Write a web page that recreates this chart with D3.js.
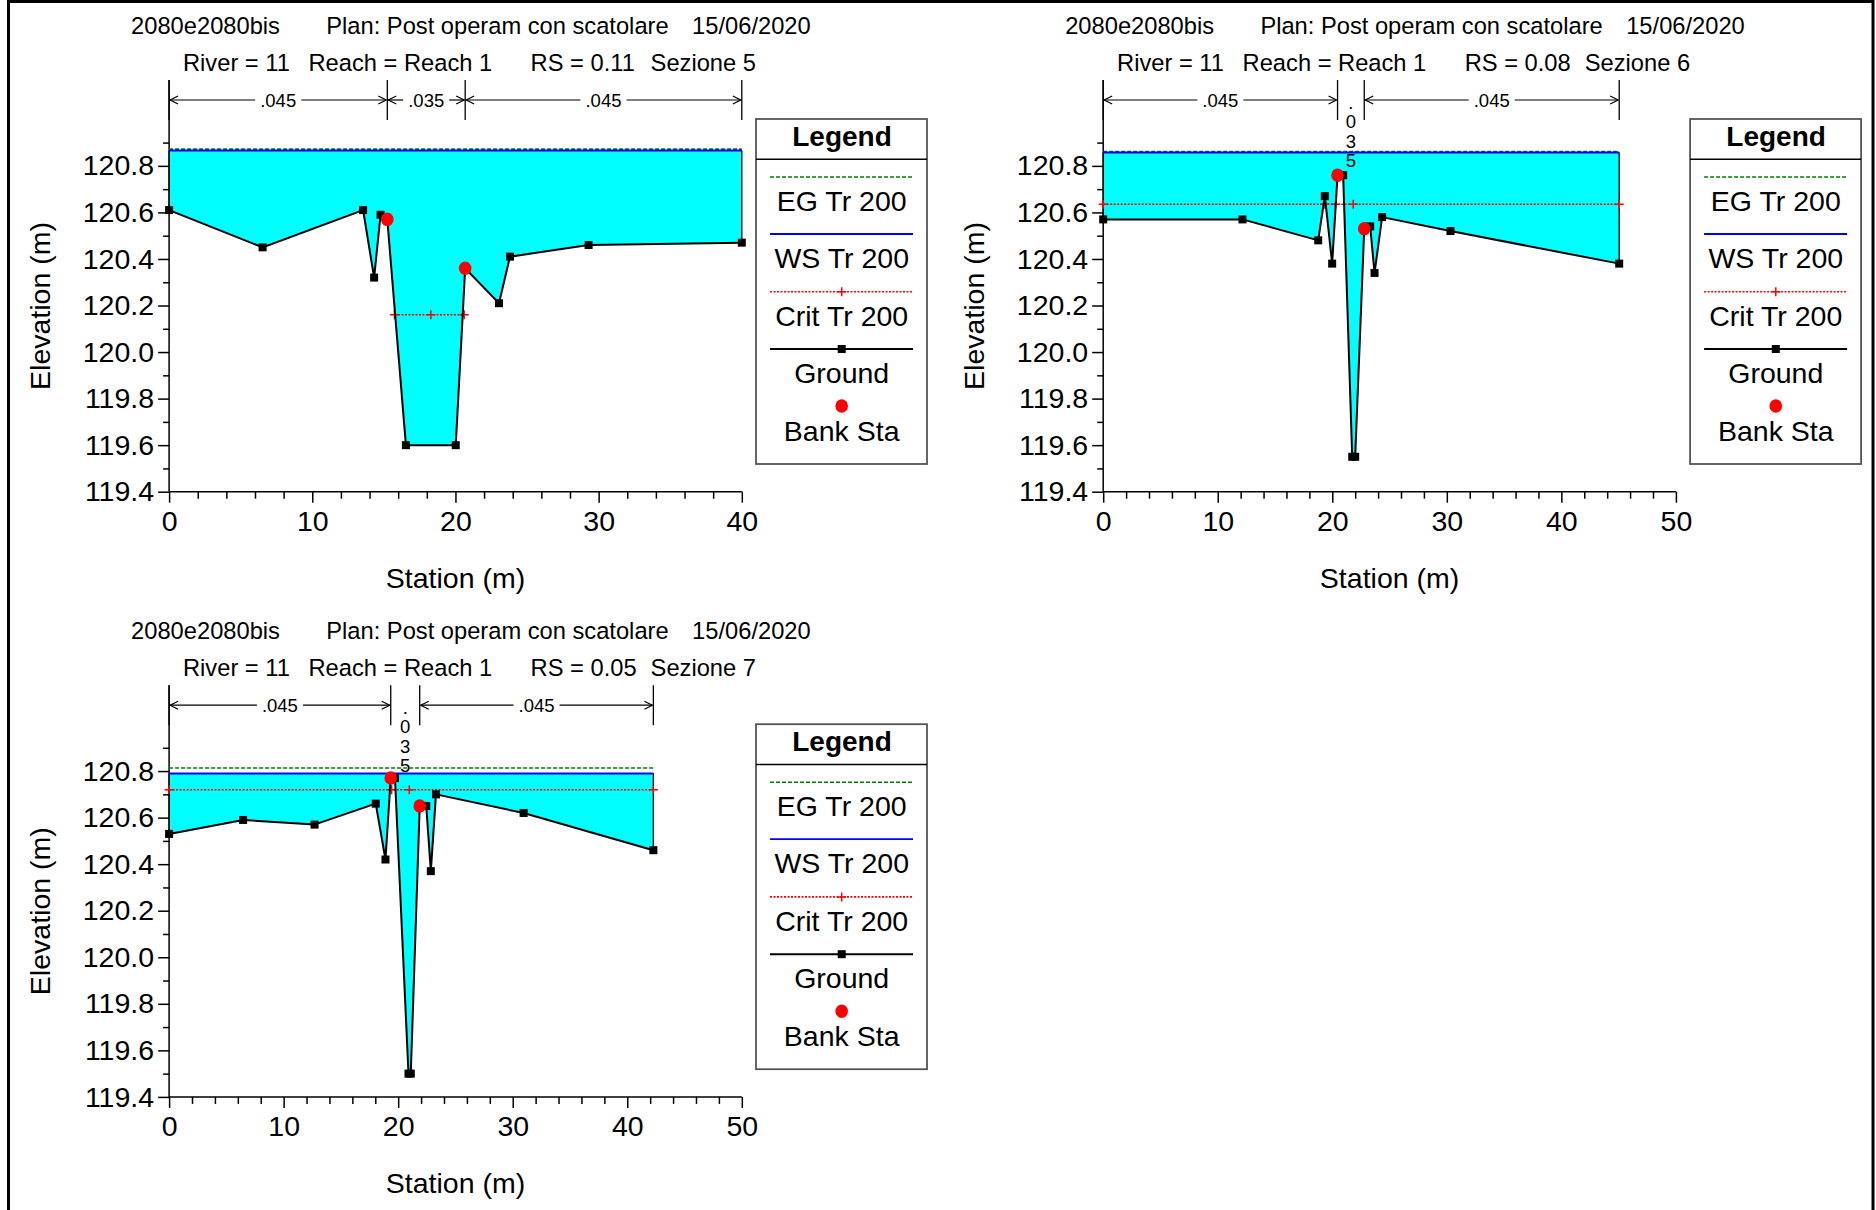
<!DOCTYPE html>
<html><head><meta charset="utf-8">
<script src="https://cdn.jsdelivr.net/npm/d3@7"></script>
<style>
body{margin:0;background:#fff;}
svg{display:block;font-family:"Liberation Sans",Arial,Helvetica,sans-serif;}
</style>
</head><body>
<svg id="c" width="1876" height="1210"></svg>
<script>
// ---------------- data ----------------
const projectName = "2080e2080bis";
const planName = "Plan: Post operam con scatolare";
const planDate = "15/06/2020";
const riverLabel = "River = 11";
const reachLabel = "Reach = Reach 1";
const rsLabels = ["RS = 0.11", "RS = 0.08", "RS = 0.05"];
const sectionLabels = ["Sezione 5", "Sezione 6", "Sezione 7"];
const stationMax = [40, 50, 50];
const stationTicks = [[0, 10, 20, 30, 40], [0, 10, 20, 30, 40, 50], [0, 10, 20, 30, 40, 50]];
const elevTicks = [119.4, 119.6, 119.8, 120.0, 120.2, 120.4, 120.6, 120.8];
const elevMinorTicks = [119.5, 119.7, 119.9, 120.1, 120.3, 120.5, 120.7, 120.9];
const elevDomain = [119.4, 120.9];

const groundStation = [
  [0, 6.53, 13.55, 14.32, 14.77, 15.24, 16.54, 20.02, 20.68, 23.04, 23.81, 29.3, 40],
  [0, 12.16, 18.77, 19.35, 19.99, 20.46, 20.95, 21.74, 22.0, 22.79, 23.31, 23.69, 24.35, 30.32, 45.05],
  [0, 6.46, 12.7, 18.04, 18.89, 19.35, 19.72, 20.9, 21.1, 21.88, 22.45, 22.85, 23.3, 30.95, 42.28]
];
const groundElev = [
  [120.61, 120.45, 120.61, 120.32, 120.59, 120.57, 119.60, 119.60, 120.36, 120.21, 120.41, 120.46, 120.47],
  [120.57, 120.57, 120.48, 120.67, 120.38, 120.76, 120.76, 119.55, 119.55, 120.53, 120.54, 120.34, 120.58, 120.52, 120.38],
  [120.53, 120.59, 120.57, 120.66, 120.42, 120.77, 120.77, 119.50, 119.50, 120.65, 120.65, 120.37, 120.70, 120.62, 120.46]
];
const bankStation = [[15.24, 20.68], [20.46, 22.79], [19.35, 21.88]];
const bankElev = [[120.57, 120.36], [120.76, 120.53], [120.77, 120.65]];
const egElev = [120.872, 120.862, 120.813];
const wsElev = [120.866, 120.857, 120.79];
const critElev = [120.16, 120.635, 120.72];
const critStation = [[15.74, 18.28, 20.61], [0, 19.35, 20.29, 21.83, 45.05], [0, 19.43, 20.97, 42.28]];
const nBounds = [[0, 15.24, 20.68, 40], [0, 20.46, 22.79, 45.05], [0, 19.35, 21.88, 42.28]];
const nValues = [[".045", ".035", ".045"], [".045", ".035", ".045"], [".045", ".035", ".045"]];
const legendLabels = ["EG Tr 200", "WS Tr 200", "Crit Tr 200", "Ground", "Bank Sta"];

// ---------------- drawing ----------------
const svg = d3.select("#c");
svg.append("rect").attr("width", 1876).attr("height", 1210).attr("fill", "#fff");
// outer frame (bottom edge is off-page)
svg.append("rect").attr("x", 8.5).attr("y", 1.5).attr("width", 1864.5).attr("height", 1230)
  .attr("fill", "none").attr("stroke", "#000").attr("stroke-width", 3);

const panelOrigins = [{x: 169.1, y: 0}, {x: 1103.2, y: 0}, {x: 169.1, y: 605.2}];
const plotW = 572.7;
const FONT = 28.5;

function drawPanel(i) {
  const o = panelOrigins[i];
  const g = svg.append("g").attr("transform", `translate(${o.x},${o.y})`);
  const x = d3.scaleLinear().domain([0, stationMax[i]]).range([0, plotW]);
  const y = d3.scaleLinear().domain(elevDomain).range([491.7, 142.6]);
  const bottom = y(elevDomain[0]);

  // titles
  const t1 = g.append("g").attr("font-size", 23.7).attr("fill", "#000");
  t1.append("text").attr("x", -38).attr("y", 34).text(projectName);
  t1.append("text").attr("x", 157.2).attr("y", 34).text(planName);
  t1.append("text").attr("x", 523).attr("y", 34).text(planDate);
  t1.append("text").attr("x", 13.9).attr("y", 70.6).text(riverLabel);
  t1.append("text").attr("x", 139.4).attr("y", 70.6).text(reachLabel);
  t1.append("text").attr("x", 361.5).attr("y", 70.6).text(rsLabels[i]);
  t1.append("text").attr("x", 481.5).attr("y", 70.6).text(sectionLabels[i]);

  const gs = groundStation[i], ge = groundElev[i];
  const pts = gs.map((s, k) => [s, ge[k]]);

  // water fill
  const xEnd = gs[gs.length - 1];
  const poly = [[0, wsElev[i]], [xEnd, wsElev[i]]].concat(pts.slice().reverse());
  g.append("path")
    .attr("d", d3.line().x(d => x(d[0])).y(d => y(d[1]))(poly) + "Z")
    .attr("fill", "#00FFFF").attr("stroke", "none");

  // axes
  const yMinor = d3.axisLeft(y).tickValues(elevMinorTicks).tickSize(6).tickFormat("");
  const yMajor = d3.axisLeft(y).tickValues(elevTicks).tickSize(11).tickPadding(4).tickFormat(d3.format(".1f"));
  const minorX = d3.range(0, stationMax[i] + 0.001, 2).filter(v => v % 10 !== 0);
  const xMinor = d3.axisBottom(x).tickValues(minorX).tickSize(7).tickFormat("");
  const xMajor = d3.axisBottom(x).tickValues(stationTicks[i]).tickSize(11).tickPadding(8).tickFormat(d3.format("d"));

  const ax = g.append("g");
  [yMinor, yMajor].forEach(a => ax.append("g").call(a));
  [xMinor, xMajor].forEach(a => ax.append("g").attr("transform", `translate(0,${bottom})`).call(a));
  ax.selectAll(".domain").remove();
  ax.selectAll(".tick line").attr("stroke", "#000").attr("stroke-width", 1.5);
  ax.selectAll(".tick text").attr("font-size", FONT).attr("fill", "#000")
    .attr("font-family", '"Liberation Sans",Arial,sans-serif');
  ax.append("line").attr("x1", 0).attr("x2", 0).attr("y1", 80).attr("y2", bottom)
    .attr("stroke", "#000").attr("stroke-width", 1.5);
  ax.append("line").attr("x1", 0).attr("x2", plotW).attr("y1", bottom).attr("y2", bottom)
    .attr("stroke", "#000").attr("stroke-width", 1.5);

  // axis titles
  g.append("text").attr("x", x(stationMax[i] / 2)).attr("y", 588).attr("text-anchor", "middle")
    .attr("font-size", FONT).text("Station (m)");
  g.append("text").attr("transform", `translate(${50 - o.x + (i === 1 ? 934.1 : 0)},306) rotate(-90)`)
    .attr("text-anchor", "middle").attr("font-size", FONT).text("Elevation (m)");

  // Manning n brackets
  const nb = nBounds[i];
  const br = g.append("g");
  nb.forEach(b => br.append("line").attr("x1", x(b)).attr("x2", x(b)).attr("y1", 80).attr("y2", 120)
    .attr("stroke", "#000").attr("stroke-width", 1.3));
  for (let k = 0; k < nb.length - 1; k++) {
    const xa = x(nb[k]), xb = x(nb[k + 1]), xm = (xa + xb) / 2;
    const lbl = nValues[i][k];
    if (xb - xa < 56) {
      lbl.split("").forEach((ch, j) => {
        br.append("text").attr("x", xm).attr("y", 108.5 + j * 19.5).attr("text-anchor", "middle")
          .attr("font-size", 18.5).text(ch);
      });
      continue;
    }
    const txt = br.append("text").attr("x", xm).attr("y", 106.5).attr("text-anchor", "middle")
      .attr("font-size", 18.5).text(lbl);
    const half = txt.node().getComputedTextLength() / 2 + 5;
    const ay = 100;
    const lx1 = xa + 1, lx2 = xb - 1;
    br.append("line").attr("x1", lx1).attr("x2", xm - half).attr("y1", ay).attr("y2", ay)
      .attr("stroke", "#000").attr("stroke-width", 1.2);
    br.append("line").attr("x1", xm + half).attr("x2", lx2).attr("y1", ay).attr("y2", ay)
      .attr("stroke", "#000").attr("stroke-width", 1.2);
    br.append("path").attr("d", `M${lx1 + 8},${ay - 4}L${lx1},${ay}L${lx1 + 8},${ay + 4}`)
      .attr("fill", "none").attr("stroke", "#000").attr("stroke-width", 1.2);
    br.append("path").attr("d", `M${lx2 - 8},${ay - 4}L${lx2},${ay}L${lx2 - 8},${ay + 4}`)
      .attr("fill", "none").attr("stroke", "#000").attr("stroke-width", 1.2);
  }

  // end walls of water area
  [0, xEnd].forEach((s, k) => {
    g.append("line").attr("x1", x(s)).attr("x2", x(s)).attr("y1", y(wsElev[i]))
      .attr("y2", y(k === 0 ? ge[0] : ge[ge.length - 1]))
      .attr("stroke", "#000").attr("stroke-width", 1.3);
  });

  // EG
  g.append("line").attr("x1", x(0)).attr("x2", x(xEnd)).attr("y1", y(egElev[i])).attr("y2", y(egElev[i]))
    .attr("stroke", "#008000").attr("stroke-width", 1.6).attr("stroke-dasharray", "4,2");
  // WS
  g.append("line").attr("x1", x(0)).attr("x2", x(xEnd)).attr("y1", y(wsElev[i])).attr("y2", y(wsElev[i]))
    .attr("stroke", "#0000FF").attr("stroke-width", 2);
  // Crit
  const cs = critStation[i];
  g.append("line").attr("x1", x(cs[0])).attr("x2", x(cs[cs.length - 1]))
    .attr("y1", y(critElev[i])).attr("y2", y(critElev[i]))
    .attr("stroke", "#FF0000").attr("stroke-width", 1.6).attr("stroke-dasharray", "2,1.5");
  cs.forEach(s => {
    const cx = x(s), cy = y(critElev[i]);
    g.append("path").attr("d", `M${cx - 4.5},${cy}H${cx + 4.5}M${cx},${cy - 4.5}V${cy + 4.5}`)
      .attr("stroke", "#FF0000").attr("stroke-width", 1.5);
  });

  // Ground
  g.append("path").attr("d", d3.line().x(d => x(d[0])).y(d => y(d[1]))(pts))
    .attr("fill", "none").attr("stroke", "#000").attr("stroke-width", 2);
  g.selectAll(".gsq").data(pts).join("rect").attr("class", "gsq")
    .attr("x", d => x(d[0]) - 4).attr("y", d => y(d[1]) - 4)
    .attr("width", 8).attr("height", 8).attr("fill", "#000");
  // Bank stations
  g.selectAll(".bank").data(bankStation[i].map((s, k) => [s, bankElev[i][k]])).join("ellipse")
    .attr("class", "bank").attr("cx", d => x(d[0])).attr("cy", d => y(d[1]))
    .attr("rx", 6.3).attr("ry", 6.8).attr("fill", "#FF0000");

  // Legend
  const lg = g.append("g").attr("transform", `translate(${756 - 169.1},119)`);
  lg.append("rect").attr("x", 0).attr("y", 0).attr("width", 171).attr("height", 345)
    .attr("fill", "#fff").attr("stroke", "#555").attr("stroke-width", 1.8);
  lg.append("line").attr("x1", 0).attr("x2", 171).attr("y1", 40.3).attr("y2", 40.3)
    .attr("stroke", "#000").attr("stroke-width", 1.5);
  lg.append("text").attr("x", 86).attr("y", 26.7).attr("text-anchor", "middle")
    .attr("font-size", 28).attr("font-weight", "bold").text("Legend");
  const cxL = 85.7, lx1 = 14, lx2 = 157;
  const rowY = [58, 115, 172.7, 230, 287];
  const txtY = [91.7, 148.7, 207, 264.3, 321.7];
  lg.append("line").attr("x1", lx1).attr("x2", lx2).attr("y1", rowY[0]).attr("y2", rowY[0])
    .attr("stroke", "#008000").attr("stroke-width", 1.6).attr("stroke-dasharray", "4,2");
  lg.append("line").attr("x1", lx1).attr("x2", lx2).attr("y1", rowY[1]).attr("y2", rowY[1])
    .attr("stroke", "#0000FF").attr("stroke-width", 1.8);
  lg.append("line").attr("x1", lx1).attr("x2", lx2).attr("y1", rowY[2]).attr("y2", rowY[2])
    .attr("stroke", "#FF0000").attr("stroke-width", 1.6).attr("stroke-dasharray", "2,1.5");
  lg.append("path").attr("d", `M${cxL - 4.5},${rowY[2]}H${cxL + 4.5}M${cxL},${rowY[2] - 4.5}V${rowY[2] + 4.5}`)
    .attr("stroke", "#FF0000").attr("stroke-width", 1.5);
  lg.append("line").attr("x1", lx1).attr("x2", lx2).attr("y1", rowY[3]).attr("y2", rowY[3])
    .attr("stroke", "#000").attr("stroke-width", 2);
  lg.append("rect").attr("x", cxL - 4).attr("y", rowY[3] - 4).attr("width", 8).attr("height", 8)
    .attr("fill", "#000");
  lg.append("ellipse").attr("cx", cxL).attr("cy", rowY[4]).attr("rx", 6.3).attr("ry", 6.8).attr("fill", "#FF0000");
  legendLabels.forEach((l, k) => {
    lg.append("text").attr("x", cxL).attr("y", txtY[k]).attr("text-anchor", "middle")
      .attr("font-size", FONT).text(l);
  });
}

[0, 1, 2].forEach(drawPanel);
</script>
</body></html>
